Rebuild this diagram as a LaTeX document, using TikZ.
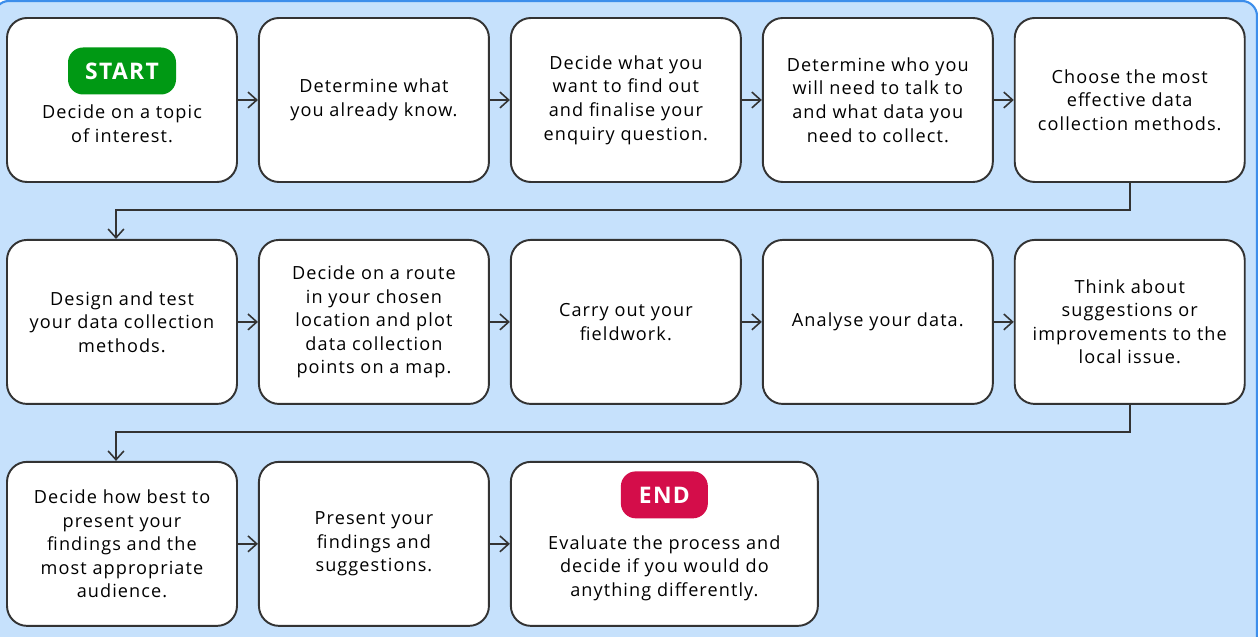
\documentclass[tikz,border=0pt]{standalone}
\usepackage{fontspec}
\setmainfont{Open Sans}[LetterSpace=6]
\usetikzlibrary{arrows.meta,positioning}

\definecolor{bgblue}{HTML}{C6E1FC}
\definecolor{bgedge}{HTML}{3D8EEB}
\definecolor{boxedge}{HTML}{333333}
\definecolor{startgreen}{HTML}{009914}
\definecolor{endred}{HTML}{D40D4A}

\begin{document}
\begin{tikzpicture} [
    stepbox/.style={rectangle, rounded corners=0.4cm, draw=boxedge, fill=white, line width=1.1pt,
        minimum width=4.6cm, minimum height=3.28cm, align=center,
        font=\fontsize{10.3}{13.4}\selectfont},
    steptext/.style={align=center, font=\fontsize{10.3}{13.4}\selectfont},
    badge/.style={rectangle, rounded corners=0.3cm, text=white, minimum height=0.94cm,
        font=\fontsize{13}{15}\selectfont\bfseries},
    link/.style={draw=boxedge, line width=0.9pt},
    >={Straight Barb[length=5pt,width=9pt]}
    ]
    \useasboundingbox (0,0) rectangle (25.16,-12.74);
    \draw[fill=bgblue, draw=bgedge, line width=1.2pt, rounded corners=0.3cm] (-0.12,-0.02) rectangle (25.14,-13.4);

    %Nodes
    \node[stepbox]      (b1)  at (2.44,-2.0) {};
    \node[steptext]     (t1)  at ([yshift=-0.48cm]b1.center) {Decide on a topic\\of interest.};
    \node[badge, fill=startgreen, minimum width=2.16cm] (start) at ([yshift=0.58cm]b1.center) {START};
    \node[stepbox]      (b2)  [right=0.4cm of b1] {Determine what\\you already know.};
    \node[stepbox]      (b3)  [right=0.4cm of b2] {Decide what you\\want to find out\\and finalise your\\enquiry question.};
    \node[stepbox]      (b4)  [right=0.4cm of b3] {Determine who you\\will need to talk to\\and what data you\\need to collect.};
    \node[stepbox]      (b5)  [right=0.4cm of b4] {Choose the most\\effective data\\collection methods.};

    \node[stepbox]      (b6)  [below=1.12cm of b1] {Design and test\\your data collection\\methods.};
    \node[stepbox]      (b7)  [right=0.4cm of b6] {Decide on a route\\in your chosen\\location and plot\\data collection\\points on a map.};
    \node[stepbox]      (b8)  [right=0.4cm of b7] {Carry out your\\fieldwork.};
    \node[stepbox]      (b9)  [right=0.4cm of b8] {Analyse your data.};
    \node[stepbox]      (b10) [right=0.4cm of b9] {Think about\\suggestions or\\improvements to the\\local issue.};

    \node[stepbox]      (b11) [below=1.12cm of b6] {Decide how best to\\present your\\findings and the\\most appropriate\\audience.};
    \node[stepbox]      (b12) [right=0.4cm of b11] {Present your\\findings and\\suggestions.};
    \node[stepbox, minimum width=6.14cm] (b13) [right=0.4cm of b12] {};
    \node[steptext]     (t13) at ([yshift=-0.48cm]b13.center) {Evaluate the process and\\decide if you would do\\anything differently.};
    \node[badge, fill=endred, minimum width=1.74cm] (end) at ([yshift=0.98cm]b13.center) {END};

    %Lines
    \draw[link, ->] (b1.east) -- (b2.west);
    \draw[link, ->] (b2.east) -- (b3.west);
    \draw[link, ->] (b3.east) -- (b4.west);
    \draw[link, ->] (b4.east) -- (b5.west);
    \draw[link, ->] (b5.south) -- ++(0,-0.54) -| ([xshift=-0.12cm]b6.north);
    \draw[link, ->] (b6.east) -- (b7.west);
    \draw[link, ->] (b7.east) -- (b8.west);
    \draw[link, ->] (b8.east) -- (b9.west);
    \draw[link, ->] (b9.east) -- (b10.west);
    \draw[link, ->] (b10.south) -- ++(0,-0.54) -| ([xshift=-0.12cm]b11.north);
    \draw[link, ->] (b11.east) -- (b12.west);
    \draw[link, ->] (b12.east) -- (b13.west);

\end{tikzpicture}
\end{document}
